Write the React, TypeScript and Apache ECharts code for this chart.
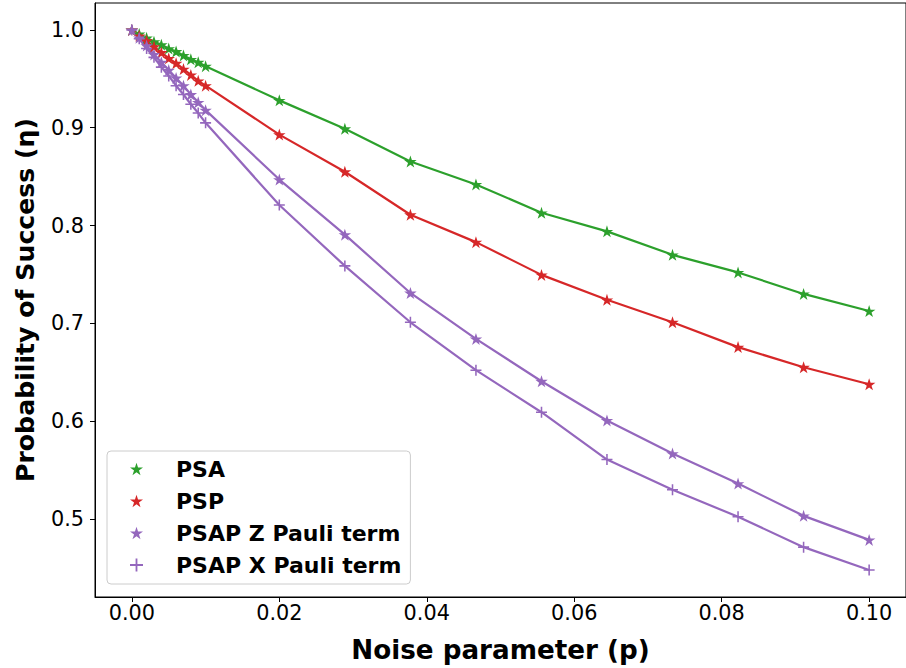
import React, { useEffect, useRef } from "react";
import * as echarts from "echarts";

const xValues = [0, 0.001, 0.002, 0.003, 0.004, 0.005, 0.006, 0.007, 0.008, 0.009, 0.01,
  0.02, 0.02889, 0.03778, 0.04667, 0.05556, 0.06444, 0.07333, 0.08222, 0.09111, 0.1];

const psa = [1.0, 0.996, 0.992, 0.988, 0.985, 0.981, 0.978, 0.974, 0.970, 0.967, 0.963,
  0.928, 0.899, 0.8655, 0.842, 0.813, 0.794, 0.770, 0.752, 0.730, 0.7125];
const psp = [1.0, 0.994, 0.989, 0.983, 0.977, 0.971, 0.966, 0.960, 0.954, 0.948, 0.943,
  0.893, 0.855, 0.811, 0.783, 0.7495, 0.724, 0.701, 0.6756, 0.655, 0.6376];
const psapZ = [1.0, 0.992, 0.984, 0.975, 0.967, 0.959, 0.951, 0.943, 0.934, 0.926, 0.918,
  0.847, 0.7906, 0.731, 0.684, 0.6407, 0.6006, 0.5667, 0.536, 0.503, 0.4784];
const psapX = [1.0, 0.991, 0.981, 0.972, 0.962, 0.953, 0.943, 0.934, 0.924, 0.915, 0.905,
  0.821, 0.7587, 0.701, 0.652, 0.609, 0.5606, 0.5298, 0.502, 0.471, 0.4476];

const seriesNames = ["PSA", "PSP", "PSAP Z Pauli term", "PSAP X Pauli term"];
const xTicks = [0, 0.02, 0.04, 0.06, 0.08, 0.1];
const yTicks = [0.5, 0.6, 0.7, 0.8, 0.9, 1.0];

const STAR = "path://M0,-1 L0.2245,-0.309 L0.951,-0.309 L0.363,0.118 L0.588,0.809 L0,0.382 L-0.588,0.809 L-0.363,0.118 L-0.951,-0.309 L-0.2245,-0.309 Z";
const PLUS = "path://M-0.14,-1 L0.14,-1 L0.14,-0.14 L1,-0.14 L1,0.14 L0.14,0.14 L0.14,1 L-0.14,1 L-0.14,0.14 L-1,0.14 L-1,-0.14 L-0.14,-0.14 Z";

const FONT = "DejaVu Sans";

export default function App() {
  const ref = useRef<HTMLDivElement>(null);
  useEffect(() => {
    if (!ref.current) return;
    const chart = echarts.init(ref.current, undefined, { renderer: "svg" });
    const mk = (name: string, data: number[], color: string, symbol: string, size: any) => ({
      name,
      type: "line",
      data: xValues.map((x, i) => [x, data[i]]),
      symbol,
      symbolSize: size,
      showSymbol: true,
      lineStyle: { color, width: 2.2 },
      itemStyle: { color },
      emphasis: { disabled: true },
    });
    chart.setOption({
      animation: false,
      grid: { left: 95, right: -3, top: 3, bottom: 71, show: true, borderColor: "#000", borderWidth: 1 },
      xAxis: {
        type: "value",
        min: -0.005,
        max: 0.105,
        name: "Noise parameter (p)",
        nameLocation: "middle",
        nameGap: 40,
        nameTextStyle: { fontFamily: FONT, fontWeight: "bold", fontSize: 26.2, color: "#000" },
        splitLine: { show: false },
        axisLine: { show: true, onZero: false, lineStyle: { color: "#000", width: 1 } },
        axisTick: { show: true, length: 5, customValues: xTicks, lineStyle: { color: "#000" } },
        axisLabel: {
          customValues: xTicks,
          formatter: (v: number) => v.toFixed(2),
          fontFamily: FONT, fontSize: 20.8, color: "#000", margin: 5,
        },
      },
      yAxis: {
        type: "value",
        min: 0.42,
        max: 1.0276,
        name: "Probability of Success (η)",
        nameLocation: "middle",
        nameGap: 57,
        nameTextStyle: { fontFamily: FONT, fontWeight: "bold", fontSize: 25.2, color: "#000" },
        splitLine: { show: false },
        axisLine: { show: true, onZero: false, lineStyle: { color: "#000", width: 1 } },
        axisTick: { show: true, length: 5, customValues: yTicks, lineStyle: { color: "#000" } },
        axisLabel: {
          customValues: yTicks,
          formatter: (v: number) => v.toFixed(1),
          fontFamily: FONT, fontSize: 20.8, color: "#000", margin: 11,
        },
      },
      legend: {
        orient: "vertical",
        left: 107,
        top: 451,
        padding: [7, 9, 8, 23],
        itemGap: 10,
        itemWidth: 13,
        itemHeight: 13,
        backgroundColor: "rgba(255,255,255,0.8)",
        borderColor: "#cccccc",
        borderWidth: 1,
        borderRadius: 4,
        textStyle: { fontFamily: FONT, fontWeight: "bold", fontSize: 22, color: "#000", lineHeight: 22, padding: [0, 0, 0, 28] },
        data: [
          { name: seriesNames[0], icon: STAR },
          { name: seriesNames[1], icon: STAR },
          { name: seriesNames[2], icon: STAR },
          { name: seriesNames[3], icon: PLUS },
        ],
      },
      series: [
        mk(seriesNames[0], psa, "#2ca02c", STAR, [12.5, 12]),
        mk(seriesNames[1], psp, "#d62728", STAR, [12.5, 12]),
        mk(seriesNames[2], psapZ, "#9467bd", STAR, [12.5, 12]),
        mk(seriesNames[3], psapX, "#9467bd", PLUS, 11),
      ],
    });
    return () => chart.dispose();
  }, []);
  return <div ref={ref} style={{ width: 906, height: 668, position: "absolute", left: 0, top: 0 }} />;
}
